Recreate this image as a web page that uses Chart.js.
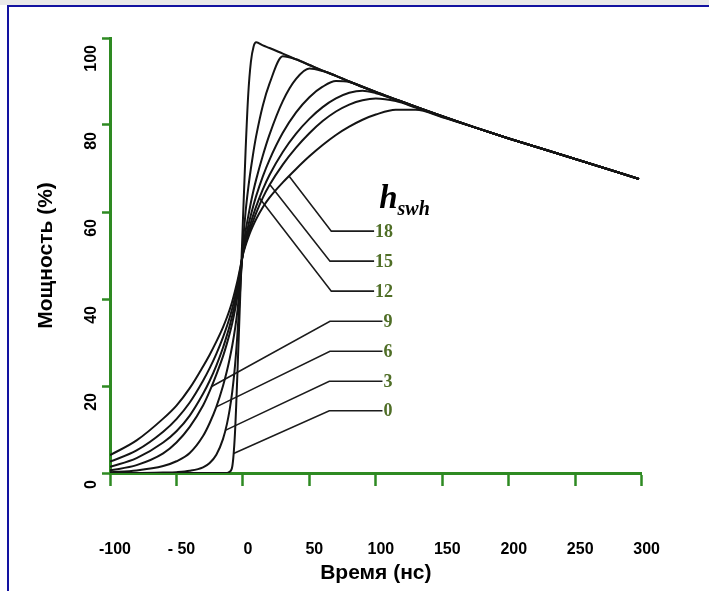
<!DOCTYPE html>
<html>
<head>
<meta charset="utf-8">
<script src="https://cdn.jsdelivr.net/npm/chart.js@4"></script>
<style>
  html, body { margin: 0; padding: 0; background: #fff; }
  #wrap { position: relative; width: 709px; height: 591px; overflow: hidden; background: #fff; }
  #topstrip { position: absolute; left: 0; top: 0; width: 709px; height: 5px; background: #e9e9e9; }
  #frame { position: absolute; left: 7px; top: 5px; width: 720px; height: 600px; border: 2px solid #1212a0; pointer-events: none; }
  canvas { position: absolute; left: 0; top: 0; }
</style>
</head>
<body>
<div id="wrap">
  <div id="topstrip"></div>
  <canvas id="myChart" width="709" height="591"></canvas>
  <div id="frame"></div>
</div>
<script>
// time points (ns) shared by all curves
var times = [-100, -80, -60, -50, -40, -30, -25, -20, -15, -12,
  -10, -8, -6, -4, -2, 0, 2, 4, 6, 8,
  10, 15, 20, 30, 40, 50, 60, 70, 80, 90,
  100, 115, 130, 150, 175, 200, 250, 298];

// power (%) for each h_swh
var h0 = [0, 0, 0, 0, 0, 0, 0, 0, 0, 0,
  0.3, 1.5, 9, 24, 41, 58, 74, 87, 94.5, 98,
  99.0, 98.3, 97.7, 96.4, 95.1, 93.8, 92.5, 91.3, 90.0, 88.8,
  87.6, 85.9, 84.2, 82.0, 79.4, 76.9, 72.2, 67.6];
var h3 = [0, 0, 0.1, 0.2, 0.5, 1.3, 2.3, 4.2, 7.8, 11.3,
  14.5, 18.7, 24.5, 32.5, 42.5, 52.5, 60, 65.5, 70, 74,
  77.5, 84.5, 89.5, 95.8, 95.1, 93.8, 92.5, 91.3, 90.0, 88.8,
  87.6, 85.9, 84.2, 82.0, 79.4, 76.9, 72.2, 67.6];
var h6 = [0.2, 0.6, 1.6, 2.7, 4.6, 8.5, 11.5, 15.2, 20, 23.5,
  26.2, 29.3, 33, 37.6, 44.5, 51, 55.6, 59, 62.2, 65,
  67.5, 73, 77.8, 85.5, 90.6, 93, 92.4, 91.3, 90.0, 88.8,
  87.6, 85.9, 84.2, 82.0, 79.4, 76.9, 72.2, 67.6];
var h9 = [0.6, 1.8, 4.5, 7, 10.6, 15.5, 18.8, 22.6, 26.8, 29.8,
  32, 34.5, 37.4, 40.9, 45.3, 50.8, 54, 56.8, 59.3, 61.6,
  63.7, 68.2, 72, 78.2, 82.9, 86.4, 88.8, 90.1, 89.9, 88.7,
  87.5, 85.8, 84.2, 82.0, 79.4, 76.9, 72.2, 67.6];
var h12 = [1.4, 3.4, 7.0, 9.6, 13.2, 18.2, 21.2, 24.7, 28.8, 31.7,
  33.8, 36.2, 39, 42.3, 46.3, 50.6, 53.2, 55.5, 57.6, 59.5,
  61.3, 65.2, 68.5, 73.8, 78, 81.4, 84.1, 86.1, 87.4, 87.9,
  87.3, 85.8, 84.1, 82.0, 79.4, 76.9, 72.2, 67.6];
var h15 = [2.6, 5.2, 9.5, 12.4, 16.2, 21.2, 24.1, 27.4, 31.2, 33.8,
  35.7, 37.9, 40.4, 43.4, 46.8, 50.4, 52.7, 54.7, 56.5, 58.2,
  59.8, 63.3, 66.2, 70.9, 74.8, 78.1, 80.9, 83.1, 84.7, 85.7,
  86.1, 85.5, 84.0, 81.9, 79.4, 76.9, 72.2, 67.6];
var h18 = [4.1, 7.5, 12.5, 15.5, 19.5, 24.5, 27.2, 30.2, 33.5, 35.8,
  37.5, 39.5, 41.8, 44.3, 47.2, 50.2, 52.3, 54.1, 55.7, 57.1,
  58.4, 61.1, 63.3, 66.8, 69.9, 72.8, 75.4, 77.7, 79.6, 81.2,
  82.4, 83.5, 83.5, 81.8, 79.4, 76.9, 72.2, 67.6];

// callout labels: where each leader leaves its curve, and where its label sits
var leaderNames = ['18', '15', '12', '9', '6', '3', '0'];
var leaderStartT = [34.8, 20.2, 12.4, -23.5, -20, -13.3, -7];
var leaderStartV = [68.2, 66.3, 63.2, 19.9, 15.2, 9.8, 4.5];
var leaderKneeT = [66.5, 65.5, 66.5, 65.5, 65.5, 65, 65];
var leaderEndT = [98.7, 98.7, 98.7, 105, 105, 105, 105];
var labelV = [55.6, 48.7, 41.8, 34.9, 28.0, 21.1, 14.3];

var xTickLabels = {'-100': '-100', '-50': '- 50'};

var green = '#2e8a22';

function pts(arr) {
  return times.map(function (t, i) { return {x: t, y: arr[i]}; });
}

var datasets = [h0, h3, h6, h9, h12, h15, h18].map(function (arr) {
  return {
    data: pts(arr),
    borderColor: '#141414',
    borderWidth: 2,
    cubicInterpolationMode: 'monotone',
    pointRadius: 0,
    fill: false
  };
});

leaderNames.forEach(function (n, i) {
  datasets.push({
    data: [
      {x: leaderStartT[i], y: leaderStartV[i]},
      {x: leaderKneeT[i], y: labelV[i]},
      {x: leaderEndT[i], y: labelV[i]}
    ],
    borderColor: '#1c1c1c',
    borderWidth: 1.6,
    tension: 0,
    pointRadius: 0,
    fill: false
  });
});

var labelPlugin = {
  id: 'hlabels',
  afterDatasetsDraw: function (chart) {
    var ctx = chart.ctx;
    var xs = chart.scales.x, ys = chart.scales.y;
    ctx.save();
    ctx.fillStyle = '#4f6e26';
    ctx.font = 'bold 18px "Liberation Serif", "DejaVu Serif", serif';
    ctx.textAlign = 'left';
    ctx.textBaseline = 'middle';
    leaderNames.forEach(function (n, i) {
      ctx.fillText(n, xs.getPixelForValue(leaderEndT[i]) + 1, ys.getPixelForValue(labelV[i]) + 1);
    });
    // h_swh heading
    var hx = xs.getPixelForValue(102.5), hy = ys.getPixelForValue(61);
    ctx.fillStyle = '#000';
    ctx.textBaseline = 'alphabetic';
    ctx.font = 'italic bold 33px "Liberation Serif", "DejaVu Serif", serif';
    ctx.fillText('h', hx, hy);
    var w = ctx.measureText('h').width;
    ctx.font = 'italic bold 20px "Liberation Serif", "DejaVu Serif", serif';
    ctx.fillText('swh', hx + w, hy + 7);
    ctx.restore();
  }
};

var ctx = document.getElementById('myChart').getContext('2d');
var chart = new Chart(ctx, {
  type: 'line',
  data: { datasets: datasets },
  options: {
    responsive: false,
    animation: false,
    layout: { padding: { left: 0, right: 59, top: 38, bottom: 0 } },
    plugins: { legend: { display: false }, tooltip: { enabled: false } },
    scales: {
      x: {
        type: 'linear',
        min: -100,
        max: 300,
        border: { color: green, width: 3 },
        grid: { drawOnChartArea: false, tickLength: 13, tickColor: green, tickWidth: 2.5 },
        ticks: {
          stepSize: 50,
          autoSkip: false,
          maxRotation: 0,
          labelOffset: 5,
          padding: 54,
          color: '#000',
          font: { family: '"Liberation Sans", Arial, sans-serif', weight: 'bold', size: 16 },
          callback: function (v) { return xTickLabels[v] || String(v); }
        },
        title: {
          display: true,
          text: 'Время (нс)',
          color: '#000',
          font: { family: '"Liberation Sans", Arial, sans-serif', weight: 'bold', size: 21 },
          padding: { top: 0, bottom: 5 }
        },
        afterFit: function (s) { s.height = 118; }
      },
      y: {
        min: 0,
        max: 100,
        border: { color: green, width: 3 },
        grid: { drawOnChartArea: false, tickLength: 8, tickColor: green, tickWidth: 2.5 },
        ticks: {
          stepSize: 20,
          minRotation: 90,
          maxRotation: 90,
          labelOffset: 7,
          padding: 10,
          crossAlign: 'near',
          color: '#000',
          font: { family: '"Liberation Sans", Arial, sans-serif', weight: 'bold', size: 16 }
        },
        title: {
          display: true,
          text: 'Мощность (%)',
          color: '#000',
          font: { family: '"Liberation Sans", Arial, sans-serif', weight: 'bold', size: 21 },
          padding: { top: 34, bottom: 0 }
        },
        afterFit: function (s) { s.width = 110; }
      }
    }
  },
  plugins: [labelPlugin]
});
</script>
</body>
</html>
